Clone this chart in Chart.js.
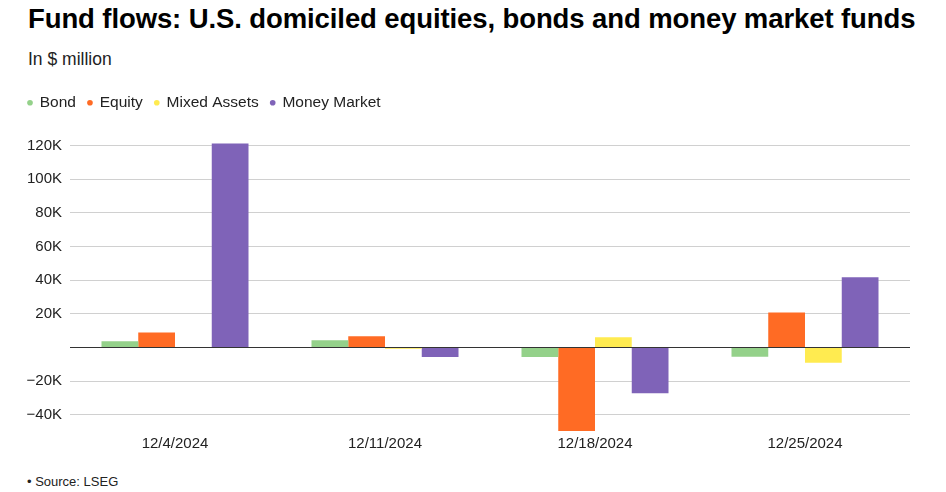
<!DOCTYPE html>
<html>
<head>
<meta charset="utf-8">
<script src="https://cdn.jsdelivr.net/npm/chart.js@4.4.1/dist/chart.umd.min.js"></script>
<style>
  html, body { margin: 0; padding: 0; background: #fff; }
  body { width: 946px; height: 492px; position: relative; overflow: hidden; font-family: "Liberation Sans", Arial, sans-serif; }
  #title { position: absolute; left: 28px; top: 3px; font-size: 27.5px; font-weight: bold; color: #000; letter-spacing: -0.1px; white-space: nowrap; }
  #subtitle { position: absolute; left: 28px; top: 49px; font-size: 17.5px; color: #222; }
  #source { position: absolute; left: 27px; top: 474px; font-size: 13px; color: #222; }
  #wrap { position: absolute; left: 0; top: 0; width: 946px; height: 492px; }
</style>
</head>
<body>
<div id="title">Fund flows: U.S. domiciled equities, bonds and money market funds</div>
<div id="subtitle">In $ million</div>
<div id="source">• Source: LSEG</div>
<div id="wrap"><canvas id="chart"></canvas></div>
<script>
const weeks = ['12/4/2024', '12/11/2024', '12/18/2024', '12/25/2024'];
const bond = [3600, 4200, -5700, -5500];
const equity = [8900, 6700, -49700, 20800];
const mixedAssets = [300, -800, 6100, -9100];
const moneyMarket = [121300, -5700, -27300, 41700];
const yTicks = [-40000, -20000, 0, 20000, 40000, 60000, 80000, 100000, 120000];

const seriesNames = ['Bond', 'Equity', 'Mixed Assets', 'Money Market'];
const seriesColors = ['#94d18a', '#ff6b24', '#ffeb50', '#7f63b8'];
const seriesData = [bond, equity, mixedAssets, moneyMarket];
const fontFamily = '"Liberation Sans", Arial, sans-serif';

function formatTick(value) {
    if (value === 0) return '';
    const k = Math.abs(value) / 1000;
    return value < 0 ? `\u2212${k}K` : `${k}K`;
}

new Chart(document.getElementById('chart'), {
    type: 'bar',
    data: {
        labels: weeks,
        datasets: seriesData.map((values, i) => ({
            label: seriesNames[i],
            data: values,
            backgroundColor: seriesColors[i],
            borderWidth: 0,
            barPercentage: 1,
            categoryPercentage: 0.7
        }))
    },
    options: {
        responsive: true,
        maintainAspectRatio: false,
        animation: false,
        layout: { padding: { top: 83, left: 16, right: 36, bottom: 36.5 } },
        plugins: {
            legend: {
                align: 'start',
                labels: {
                    usePointStyle: true,
                    pointStyle: 'circle',
                    boxWidth: 4,
                    boxHeight: 4,
                    padding: 12,
                    color: '#222',
                    font: { family: fontFamily, size: 15.5 }
                }
            },
            tooltip: { enabled: false }
        },
        scales: {
            x: {
                grid: { display: false, drawTicks: false },
                border: { display: false },
                ticks: { color: '#222', font: { family: fontFamily, size: 15 }, padding: 3 }
            },
            y: {
                min: -50000,
                max: 125000,
                afterBuildTicks: (axis) => {
                    axis.ticks = yTicks.map(v => ({ value: v }));
                },
                afterFit: (axis) => {
                    axis.width = 54;
                },
                grid: {
                    color: (ctx) => (ctx.tick && ctx.tick.value === 0) ? '#333' : '#d0d0d0',
                    lineWidth: 1,
                    drawTicks: false
                },
                border: { display: false },
                ticks: {
                    color: '#222',
                    padding: 8,
                    font: { family: fontFamily, size: 15 },
                    callback: formatTick
                }
            }
        }
    },
    plugins: [{
        id: 'legendSpacing',
        beforeInit(chart) {
            const legend = chart.legend;
            const origFit = legend.fit;
            legend.fit = function () {
                origFit.call(this);
                this.height += 16.7;
            };
        }
    }]
});
</script>
</body>
</html>
